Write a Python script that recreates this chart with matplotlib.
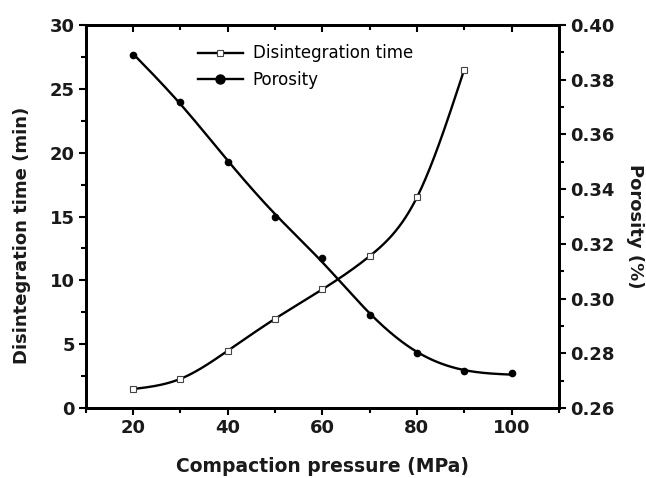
import numpy as np
import matplotlib
matplotlib.use('Agg')
import matplotlib.pyplot as plt
from matplotlib.ticker import MultipleLocator, FormatStrFormatter

plt.rcParams['font.family'] = ['DejaVu Sans']

# data
pressure_dt = [20, 30, 40, 50, 60, 70, 80, 90]
disint_time = [1.5, 2.3, 4.5, 7.0, 9.3, 11.9, 16.5, 26.5]
pressure_por = [20, 30, 40, 50, 60, 70, 80, 90, 100]
porosity = [0.389, 0.372, 0.350, 0.330, 0.315, 0.294, 0.280, 0.2737, 0.2728]


def smooth(x, y, lam=0.0, n=300):
    # cubic smoothing spline (Reinsch), used only to draw the connecting line
    x = np.asarray(x, float)
    y = np.asarray(y, float)
    k = len(x)
    h = np.diff(x)
    Q = np.zeros((k, k - 2))
    R = np.zeros((k - 2, k - 2))
    for j in range(1, k - 1):
        Q[j - 1, j - 1] = 1 / h[j - 1]
        Q[j, j - 1] = -1 / h[j - 1] - 1 / h[j]
        Q[j + 1, j - 1] = 1 / h[j]
        R[j - 1, j - 1] = (h[j - 1] + h[j]) / 3
        if j < k - 2:
            R[j - 1, j] = R[j, j - 1] = h[j] / 6
    K = Q @ np.linalg.solve(R, Q.T)
    g = np.linalg.solve(np.eye(k) + lam * K, y)
    M = np.zeros(k)
    M[1:-1] = np.linalg.solve(R, Q.T @ g)
    xs = np.linspace(x[0], x[-1], n)
    idx = np.clip(np.searchsorted(x, xs) - 1, 0, k - 2)
    hh = h[idx]
    t1 = x[idx + 1] - xs
    t0 = xs - x[idx]
    ys = (M[idx] * t1**3 + M[idx + 1] * t0**3) / (6 * hh) \
        + (g[idx] / hh - M[idx] * hh / 6) * t1 \
        + (g[idx + 1] / hh - M[idx + 1] * hh / 6) * t0
    return xs, ys


fig = plt.figure(figsize=(6.46, 4.78), dpi=100)
ax = fig.add_axes([0.133, 0.146, 0.732, 0.802])
ax2 = ax.twinx()
ax3 = ax.twiny()

xs, ys = smooth(pressure_dt, disint_time, lam=0.0)
ax.plot(xs, ys, color='black', lw=1.7)
ax.plot(pressure_dt, disint_time, ls='none', marker='s', ms=4,
        mfc='white', mec='#444444', mew=0.8)

xs, ys = smooth(pressure_por, porosity, lam=100.0)
ax2.plot(xs, ys, color='black', lw=1.7)
ax2.plot(pressure_por, porosity, ls='none', marker='o', ms=4.5,
         mfc='black', mec='black')

ax.set_xlim(10, 110)
ax3.set_xlim(10, 110)
ax.set_ylim(0, 30)
ax2.set_ylim(0.26, 0.40)

for a in (ax, ax3):
    a.xaxis.set_major_locator(MultipleLocator(20))
    a.xaxis.set_minor_locator(MultipleLocator(10))
ax.yaxis.set_major_locator(MultipleLocator(5))
ax.yaxis.set_minor_locator(MultipleLocator(2.5))
ax2.yaxis.set_major_locator(MultipleLocator(0.02))
ax2.yaxis.set_minor_locator(MultipleLocator(0.01))
ax2.yaxis.set_major_formatter(FormatStrFormatter('%.2f'))

ax.tick_params(axis='both', which='major', direction='out', length=5, width=1.5, pad=3)
ax.tick_params(axis='both', which='minor', direction='out', length=3.5, width=1.5)
ax2.tick_params(axis='y', which='major', direction='out', length=5, width=1.5, pad=3)
ax2.tick_params(axis='y', which='minor', direction='out', length=3.5, width=1.5)
ax3.tick_params(axis='x', which='major', direction='in', length=5, width=1.5, labeltop=False)
ax3.tick_params(axis='x', which='minor', direction='in', length=3.5, width=1.5)

for a in (ax, ax2, ax3):
    for s in a.spines.values():
        s.set_linewidth(2)
for lab in ax.get_xticklabels() + ax.get_yticklabels() + ax2.get_yticklabels():
    lab.set_fontweight('bold')
    lab.set_fontsize(13)
    lab.set_color('#1a1a1a')

ax.set_xlabel('Compaction pressure (MPa)', fontsize=13.5, fontweight='bold',
              color='#1a1a1a')
ax.xaxis.set_label_coords(0.5, -0.127)
ax.set_ylabel('Disintegration time (min)', fontsize=13, fontweight='bold',
              color='#1a1a1a', va='center')
ax.yaxis.set_label_coords(-0.135, 0.45)
ax2.set_ylabel('Porosity (%)', fontsize=13, fontweight='bold',
               color='#1a1a1a', rotation=270, va='center')
ax2.yaxis.set_label_coords(1.161, 0.475)

h1, = ax.plot([], [], color='black', lw=1.7, marker='s', ms=4.5,
              mfc='white', mec='#444444', mew=0.8)
h2, = ax.plot([], [], color='black', lw=1.7, marker='o', ms=6.5, mfc='black')
ax.legend([h1, h2], ['Disintegration time', 'Porosity'], loc='upper left',
          bbox_to_anchor=(0.215, 0.975), frameon=False, fontsize=12,
          handlelength=2.7, handletextpad=0.6, labelspacing=0.5,
          borderaxespad=0.2)

fig.savefig('out.png', dpi=100)
